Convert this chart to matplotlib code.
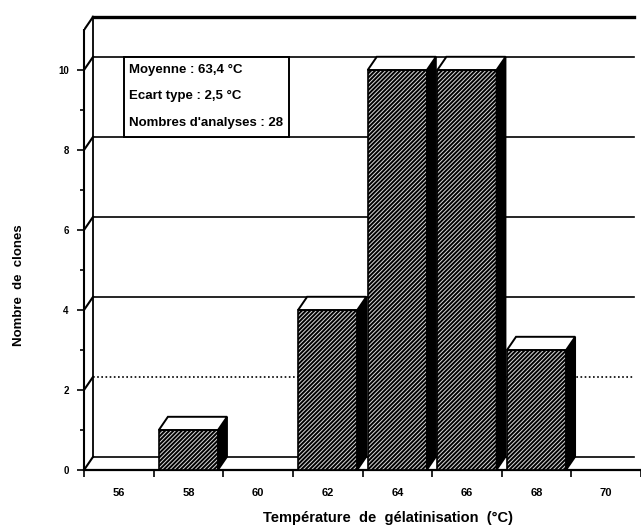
import matplotlib.pyplot as plt
from matplotlib.patches import Polygon, Rectangle

# gelatinisation temperature classes and number of clones in each
temperatures = ['56', '58', '60', '62', '64', '66', '68', '70']
clones = [0, 1, 0, 4, 10, 10, 3, 0]
stats_lines = ['Moyenne : 63,4 °C', 'Ecart type : 2,5 °C', "Nombres d'analyses : 28"]

FONT = ['Liberation Sans Narrow', 'Liberation Sans', 'DejaVu Sans']
plt.rcParams['font.family'] = FONT
plt.rcParams['hatch.linewidth'] = 1.4

# pseudo 3D depth offsets (data units)
DX, DY = 0.13, 0.33
BAR_W = 0.85
YMAX = 11

fig = plt.figure(figsize=(6.41, 5.30), dpi=100)
ax = fig.add_axes([84 / 641, 60 / 530, 557 / 641, 470 / 530])
x0, x1 = -0.5, -0.5 + 557 / 70.5
ax.set_xlim(x0, x1)
ax.set_ylim(0, 470 / 40)

# back wall: gridlines, top edge and left edge
for v in range(0, YMAX + 1, 2):
    ls = (0, (1, 1.5)) if v == 2 else '-'
    ax.plot([x0 + DX, x1], [v + DY, v + DY], color='black', lw=1.2, ls=ls, zorder=1)
    ax.plot([x0, x0 + DX], [v, v + DY], color='black', lw=1.5, zorder=1)
ax.plot([x0 + DX, x1], [YMAX + DY, YMAX + DY], color='black', lw=2.4, zorder=1)
ax.plot([x0, x0 + DX], [YMAX, YMAX + DY], color='black', lw=1.5, zorder=1)
ax.plot([x0 + DX, x0 + DX], [DY, YMAX + DY], color='black', lw=1.3, zorder=1)

# bars: hatched front, white top, black side
for i, h in enumerate(clones):
    if h == 0:
        continue
    left = i - BAR_W / 2
    right = i + BAR_W / 2
    z = 3 + i
    ax.bar(i, h, width=BAR_W, facecolor='#d8d8d8', edgecolor='black',
           hatch='////////', linewidth=1.2, zorder=z)
    ax.add_patch(Polygon([(right, 0), (right + DX, DY), (right + DX, h + DY), (right, h)],
                         closed=True, facecolor='black', edgecolor='black', lw=1.2, zorder=z))
    ax.add_patch(Polygon([(left, h), (left + DX, h + DY), (right + DX, h + DY), (right, h)],
                         closed=True, facecolor='white', edgecolor='black', lw=1.4, zorder=z))

# statistics box on the back wall
ax.add_patch(Rectangle((0.08, 8 + DY), 2.37, 2.0, facecolor='white',
                       edgecolor='black', lw=1.4, zorder=2))
for k, line in enumerate(stats_lines):
    ax.text(0.15, 10.0 - 0.66 * k, line, fontsize=9.5, fontweight='bold',
            va='center', ha='left', zorder=3)

# axes and ticks
for s in ['top', 'right']:
    ax.spines[s].set_visible(False)
ax.spines['left'].set_bounds(0, YMAX)
ax.spines['left'].set_linewidth(1.5)
ax.spines['bottom'].set_linewidth(1.6)

ax.set_yticks(range(0, YMAX, 2))
ax.set_yticks(range(1, YMAX, 2), minor=True)
ax.tick_params(axis='y', which='major', length=5, width=1.2, labelsize=7, pad=6)
ax.tick_params(axis='y', which='minor', length=3, width=1.2)

ax.set_xticks(range(len(temperatures)))
ax.set_xticklabels(temperatures)
ax.set_xticks([i + 0.5 for i in range(-1, len(temperatures))], minor=True)
ax.tick_params(axis='x', which='major', length=0, labelsize=8, pad=13)
ax.tick_params(axis='x', which='minor', length=5, width=1.2)
for lab in ax.get_xticklabels() + ax.get_yticklabels():
    lab.set_fontweight('bold')

fig.text(388 / 641, 1 - 518 / 530, 'Température  de  gélatinisation  (°C)',
         ha='center', va='center', fontsize=10.5, fontweight='bold')
fig.text(19 / 641, 1 - 285 / 530, 'Nombre  de  clones', rotation=90,
         ha='center', va='center', fontsize=9.5, fontweight='bold')

fig.savefig('out.png', dpi=100)
